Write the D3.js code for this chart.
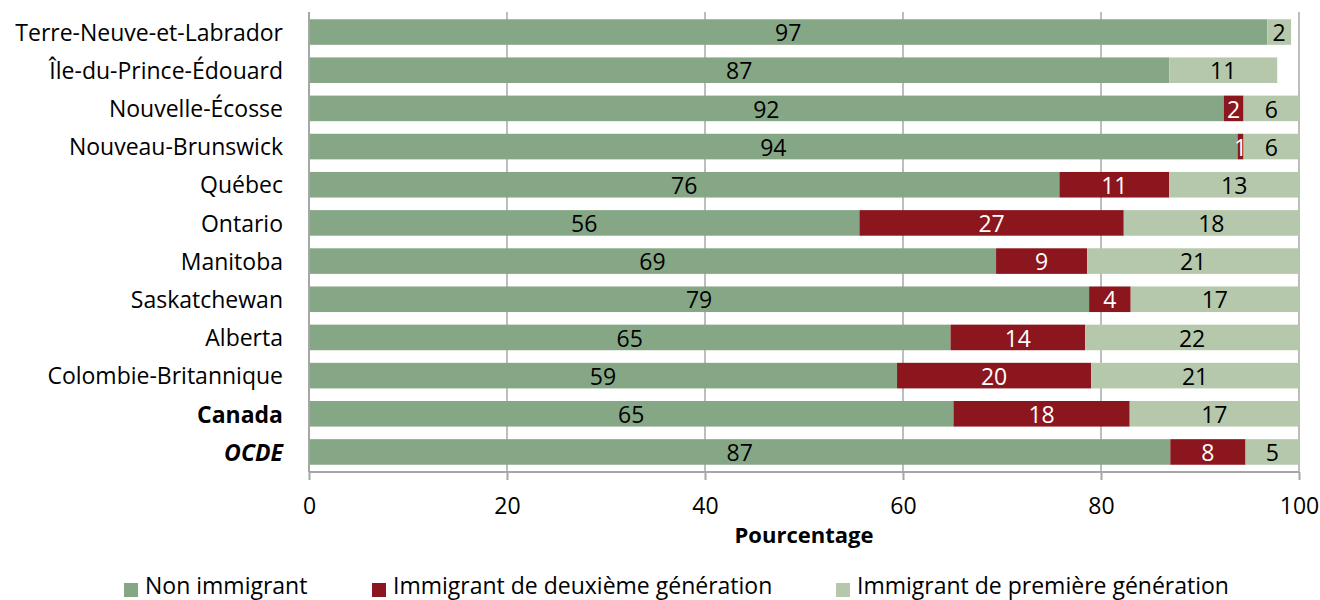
<!DOCTYPE html>
<html>
<head>
<meta charset="utf-8">
<script src="https://cdn.jsdelivr.net/npm/d3@7"></script>
<style>
  html, body { margin: 0; padding: 0; background: #fff; }
  svg { display: block; font-family: "Open Sans", sans-serif; }
</style>
</head>
<body>
<svg id="chart" width="1320" height="600"></svg>
<script>
// Provinces / groups, top to bottom
const categories = [
  "Terre-Neuve-et-Labrador", "Île-du-Prince-Édouard", "Nouvelle-Écosse",
  "Nouveau-Brunswick", "Québec", "Ontario", "Manitoba", "Saskatchewan",
  "Alberta", "Colombie-Britannique", "Canada", "OCDE"
];
// Share of students by immigrant background (%); null = not reported
const nonImmigrant = [96.8, 86.9, 92.4, 93.8, 75.8, 55.6, 69.4, 78.8, 64.8, 59.4, 65.1, 87.0];
const secondGen    = [null, null, 2.0, 0.6, 11.1, 26.7, 9.2, 4.2, 13.6, 19.6, 17.8, 7.6];
const firstGen     = [2.4, 10.9, 5.6, 5.6, 13.1, 17.7, 21.4, 17.0, 21.6, 21.0, 17.1, 5.4];

const seriesNames = ["Non immigrant", "Immigrant de deuxième génération", "Immigrant de première génération"];
const seriesValues = [nonImmigrant, secondGen, firstGen];
const colors = ["#86A786", "#8B161D", "#B5C8AB"];
const labelColors = ["#000", "#fff", "#000"];
const xTicks = [0, 20, 40, 60, 80, 100];

const svg = d3.select("#chart");
const margin = { left: 309, right: 21, top: 12, bottom: 128 };
const W = 1320, H = 600;
const FS = 23;

const x = d3.scaleLinear().domain([0, 100]).range([margin.left, W - margin.right]);
const y = d3.scaleBand().domain(categories).range([margin.top, H - margin.bottom]).paddingInner(0.33).paddingOuter(0.19);

// vertical gridlines
svg.append("g")
  .selectAll("line")
  .data(xTicks.slice(1))
  .join("line")
  .attr("x1", d => x(d)).attr("x2", d => x(d))
  .attr("y1", margin.top).attr("y2", H - margin.bottom)
  .attr("stroke", "#BDBDBD").attr("stroke-width", 2);

// stacked bars
const rows = categories.map((c, i) => {
  let acc = 0;
  return seriesValues.map((vals, s) => {
    const v = vals[i];
    const x0 = acc;
    if (v != null) acc += v;
    return { cat: c, s, v, x0, x1: acc };
  });
});

const segs = rows.flat().filter(d => d.v != null);

svg.append("g")
  .selectAll("rect")
  .data(segs)
  .join("rect")
  .attr("x", d => x(d.x0))
  .attr("y", d => y(d.cat))
  .attr("width", d => x(d.x1) - x(d.x0))
  .attr("height", y.bandwidth())
  .attr("fill", d => colors[d.s]);

svg.append("g")
  .selectAll("text")
  .data(segs)
  .join("text")
  .attr("x", d => (x(d.x0) + x(d.x1)) / 2)
  .attr("y", d => y(d.cat) + y.bandwidth() / 2)
  .attr("dy", "0.4em")
  .attr("text-anchor", "middle")
  .attr("font-size", FS)
  .attr("fill", d => labelColors[d.s])
  .text(d => d3.format(".0f")(d.v));

// left axis line
svg.append("line")
  .attr("x1", x(0)).attr("x2", x(0))
  .attr("y1", margin.top).attr("y2", H - margin.bottom)
  .attr("stroke", "#A6A6A6").attr("stroke-width", 2);

// category labels
svg.append("g")
  .selectAll("text")
  .data(categories)
  .join("text")
  .attr("x", x(0) - 26)
  .attr("y", d => y(d) + y.bandwidth() / 2)
  .attr("dy", "0.38em")
  .attr("text-anchor", "end")
  .attr("font-size", FS)
  .attr("font-weight", d => (d === "Canada" || d === "OCDE") ? "bold" : "normal")
  .attr("font-style", d => d === "OCDE" ? "italic" : "normal")
  .attr("fill", "#000")
  .text(d => d);

// x axis
const xAxis = d3.axisBottom(x).tickValues(xTicks).tickSize(8).tickPadding(18).tickFormat(d3.format("d"));
const gx = svg.append("g")
  .attr("transform", `translate(0,${H - margin.bottom})`)
  .call(xAxis);
gx.select(".domain").attr("stroke", "#A6A6A6").attr("stroke-width", 2).attr("d", `M${x(0)},0H${x(100)}`);
gx.selectAll(".tick line").attr("stroke", "#A6A6A6").attr("stroke-width", 2);
gx.selectAll(".tick text").attr("font-size", FS).attr("fill", "#000").attr("font-family", "'Open Sans', sans-serif");

svg.append("text")
  .attr("x", (x(0) + x(100)) / 2)
  .attr("y", 543)
  .attr("text-anchor", "middle")
  .attr("font-size", 22)
  .attr("font-weight", "bold")
  .text("Pourcentage");

// legend
const legendX = [124, 372, 836];
const lg = svg.append("g")
  .selectAll("g")
  .data(seriesNames)
  .join("g")
  .attr("transform", (d, i) => `translate(${legendX[i]},590)`);
lg.append("rect").attr("x", 0).attr("y", -7).attr("width", 14).attr("height", 14).attr("fill", (d, i) => colors[i]);
lg.append("text").attr("x", 21).attr("y", 4).attr("font-size", FS).text(d => d);
</script>
</body>
</html>
